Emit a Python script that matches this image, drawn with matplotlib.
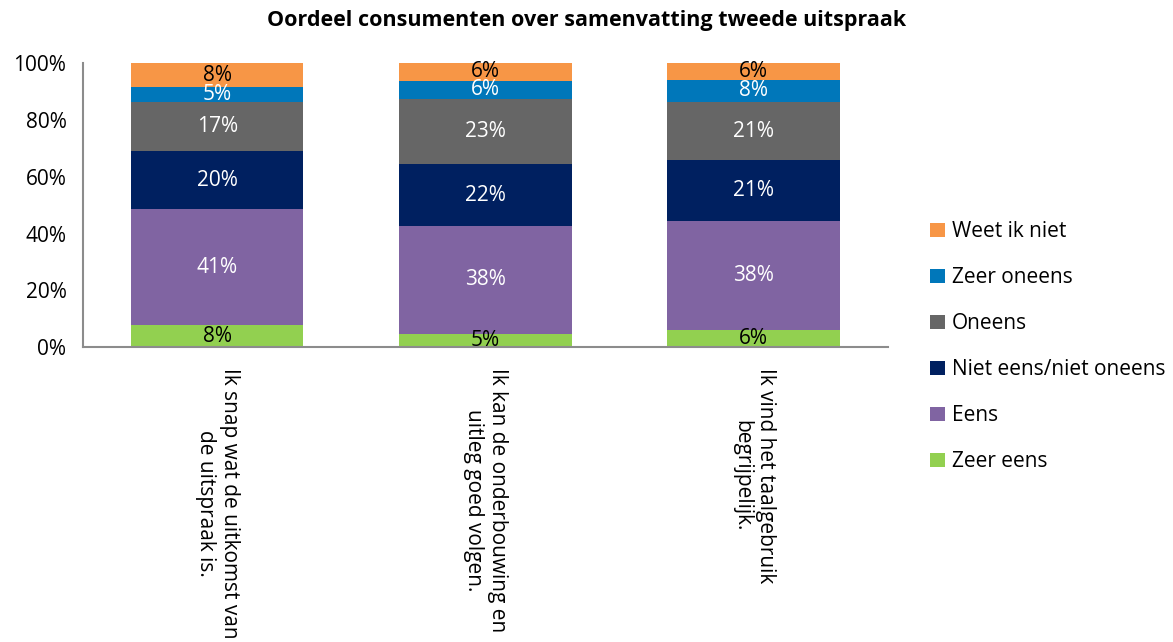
import numpy as np
import matplotlib.pyplot as plt

plt.rcParams['font.family'] = ['Open Sans', 'DejaVu Sans']

# categories (x-axis) and response shares in percent
statements = [
    "Ik snap wat de uitkomst van\nde uitspraak is.",
    "Ik kan de onderbouwing en\nuitleg goed volgen.",
    "Ik vind het taalgebruik\nbegrijpelijk.",
]
zeer_eens = [7.8, 4.8, 6.1]
eens = [40.8, 37.9, 38.4]
niet_eens_niet_oneens = [20.3, 21.6, 21.2]
oneens = [17.2, 23.0, 20.7]
zeer_oneens = [5.4, 6.4, 7.7]
weet_ik_niet = [8.4, 6.3, 5.8]

series_names = ["Zeer eens", "Eens", "Niet eens/niet oneens",
                "Oneens", "Zeer oneens", "Weet ik niet"]
series_values = [zeer_eens, eens, niet_eens_niet_oneens,
                 oneens, zeer_oneens, weet_ik_niet]
colors = ["#92D050", "#8064A2", "#002060", "#666666", "#0077BA", "#F79646"]
text_colors = ["black", "white", "white", "white", "white", "black"]

fs = 15

fig = plt.figure(figsize=(11.73, 6.42), dpi=100)
ax = fig.add_axes([0.0708, 0.459, 0.686, 0.443])

x = np.arange(len(statements))
bottom = np.zeros(len(statements))
handles = []
for name, vals, col, tcol in zip(series_names, series_values, colors, text_colors):
    vals = np.array(vals)
    bars = ax.bar(x, vals, width=0.643, bottom=bottom, color=col, label=name)
    handles.append(bars)
    for xi, b, v in zip(x, bottom, vals):
        ax.text(xi, b + v / 2, f"{round(v):.0f}%", ha='center', va='center',
                color=tcol, fontsize=fs)
    bottom += vals

ax.set_xlim(-0.5, 2.5)
ax.set_ylim(0, 100)
ax.set_yticks(np.arange(0, 101, 20))
ax.set_yticklabels([f"{t}%" for t in range(0, 101, 20)], fontsize=fs)
ax.set_xticks(x)
ax.set_xticklabels(statements, rotation=270, fontsize=fs, ha='center',
                   va='top', multialignment='center')
ax.tick_params(axis='both', length=0)
ax.tick_params(axis='y', pad=12)
ax.tick_params(axis='x', pad=15)

for side in ['top', 'right']:
    ax.spines[side].set_visible(False)
for side in ['left', 'bottom']:
    ax.spines[side].set_color('#8C8C8C')
    ax.spines[side].set_linewidth(1.5)

leg = ax.legend(handles[::-1], series_names[::-1], loc='center left',
                bbox_to_anchor=(0.777, 0.46), bbox_transform=fig.transFigure,
                frameon=False, fontsize=fs, handlelength=0.7,
                handleheight=0.7, handletextpad=0.35, labelspacing=1.2)

fig.suptitle("Oordeel consumenten over samenvatting tweede uitspraak",
             fontsize=15.5, fontweight='bold', y=0.985)

fig.savefig("out.png", dpi=100)
